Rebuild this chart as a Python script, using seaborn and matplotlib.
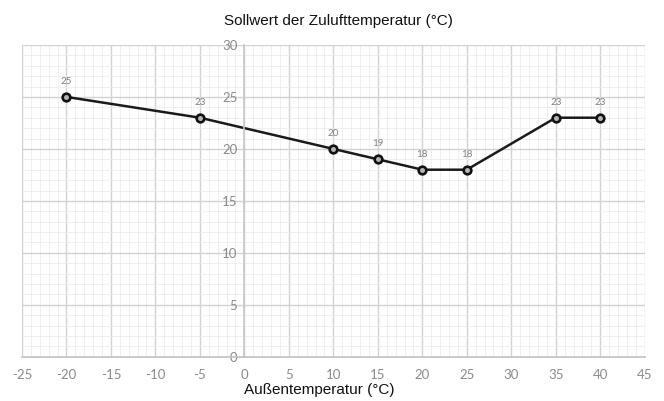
import numpy as np
import pandas as pd
import matplotlib
matplotlib.use("Agg")
import matplotlib.pyplot as plt
import seaborn as sns
from matplotlib.ticker import MultipleLocator

# Außentemperatur vs. Sollwert Zulufttemperatur
aussen = [-20, -5, 10, 15, 20, 25, 35, 40]
sollwert = [25, 23, 20, 19, 18, 18, 23, 23]
x_ticks = list(range(-25, 50, 5))
y_ticks = list(range(0, 35, 5))

df = pd.DataFrame({"aussen": aussen, "sollwert": sollwert})

sns.set_style("white")
plt.rcParams["font.family"] = ["Liberation Sans", "DejaVu Sans"]

fig = plt.figure(figsize=(6.64, 4.01), dpi=100)
ax = fig.add_axes([0.033, 0.110, 0.938, 0.778])

sns.lineplot(data=df, x="aussen", y="sollwert", ax=ax, color="#1a1a1a",
             linewidth=1.8, marker="o", markersize=5.5,
             markerfacecolor="#b5b5b5", markeredgecolor="#111111",
             markeredgewidth=1.9)

for xv, yv in zip(aussen, sollwert):
    ax.annotate(str(yv), (xv, yv), xytext=(0, 8), textcoords="offset points",
                ha="center", va="bottom", fontsize=7, color="#808080",
                family="Lato")

ax.set_xlim(-25, 45)
ax.set_ylim(0, 30)
ax.set_xticks(x_ticks)
ax.set_yticks(y_ticks)
ax.xaxis.set_minor_locator(MultipleLocator(1))
ax.yaxis.set_minor_locator(MultipleLocator(1))
ax.grid(which="major", color="#d2d2d2", linewidth=1.0)
ax.grid(which="minor", color="#ececec", linewidth=0.6)
ax.set_axisbelow(True)

for s in ["top", "right"]:
    ax.spines[s].set_visible(False)
ax.spines["left"].set_position(("data", 0))
ax.spines["left"].set_color("#c8c8c8")
ax.spines["bottom"].set_color("#c0c0c0")
ax.spines["left"].set_linewidth(1.2)
ax.spines["bottom"].set_linewidth(1.2)

ax.tick_params(which="both", length=0)
ax.tick_params(axis="x", pad=9, labelsize=9.5, labelcolor="#8a8a8a")
ax.tick_params(axis="y", pad=5, labelsize=9.5, labelcolor="#8a8a8a")
ax.set_xticklabels([str(t) for t in x_ticks])
ax.set_yticklabels([str(t) for t in y_ticks])
for lab in ax.get_xticklabels() + ax.get_yticklabels():
    lab.set_family("Lato")

ax.set_xlabel("Außentemperatur (°C)", fontsize=11, color="#111111")
ax.xaxis.set_label_coords(0.477, -0.085)
ax.set_ylabel("")
fig.text(0.51, 0.948, "Sollwert der Zulufttemperatur (°C)", ha="center", va="center",
         fontsize=11, color="#111111")

fig.savefig("out.png", dpi=100)
